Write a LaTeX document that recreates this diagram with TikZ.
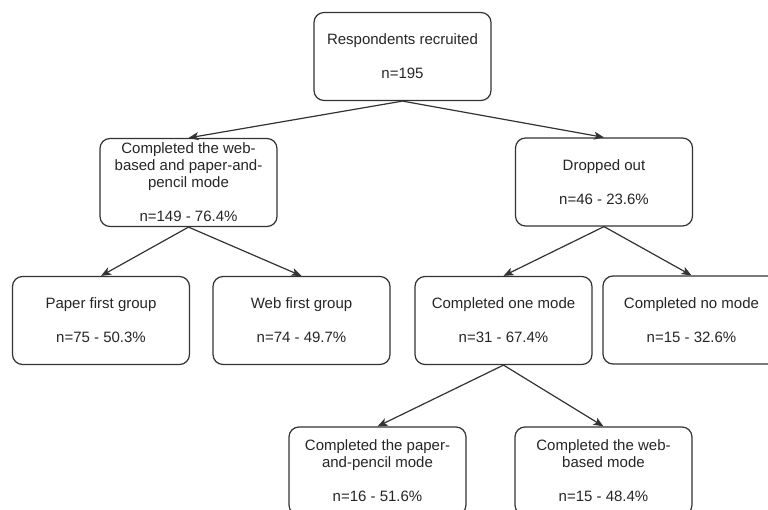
\documentclass[tikz,border=0pt]{standalone}
\usepackage{fontspec}
\setmainfont{Liberation Sans}
\usetikzlibrary{arrows.meta}

\tikzset{
	box/.style={draw=black!80, line width=1.2pt, rounded corners=10pt, fill=white,
		minimum width=177pt, minimum height=88pt, inner sep=0pt, align=center,
		font=\fontsize{15}{17}\selectfont, text=black!85},
	link/.style={draw=black!80, line width=1.2pt, -{Stealth[length=10pt,width=8pt,inset=2.5pt]}}
}

\begin{document}
\begin{tikzpicture}[x=1pt, y=-1pt]
			%%%%% START %%%%%
			
			\useasboundingbox[fill=white] (0, 0) rectangle (768, 510);
			\clip (0, 0) rectangle (768, 510);
			
			\node[box] (recruited) at (402.5, 56.5) {Respondents recruited\\[17pt]n=195};
			
			\node[box] (both) at (188.5, 182.5) {Completed the web-\\based and paper-and-\\pencil mode\\[17pt]n=149 - 76.4\%};
			\node[box] (dropped) at (604, 182) {Dropped out\\[17pt]n=46 - 23.6\%};
			
			\node[box] (paperfirst) at (101, 320.5) {Paper first group\\[17pt]n=75 - 50.3\%};
			\node[box] (webfirst) at (301.5, 320.5) {Web first group\\[17pt]n=74 - 49.7\%};
			\node[box] (onemode) at (503.5, 320.5) {Completed one mode\\[17pt]n=31 - 67.4\%};
			\node[box] (nomode) at (691.5, 320) {Completed no mode\\[17pt]n=15 - 32.6\%};
			
			\node[box] (papermode) at (377.5, 471) {Completed the paper-\\and-pencil mode\\[17pt]n=16 - 51.6\%};
			\node[box] (webmode) at (603.5, 471) {Completed the web-\\based mode\\[17pt]n=15 - 48.4\%};
			
			\draw[link] (recruited.south) -- (both.north);
			\draw[link] (recruited.south) -- (dropped.north);
			
			\draw[link] (both.south) -- (paperfirst.north);
			\draw[link] (both.south) -- (webfirst.north);
			
			\draw[link] (dropped.south) -- (onemode.north);
			\draw[link] (dropped.south) -- (nomode.north);
			
			\draw[link] (onemode.south) -- (papermode.north);
			\draw[link] (onemode.south) -- (webmode.north);
			
			%%%%% END %%%%%
\end{tikzpicture}
\end{document}
